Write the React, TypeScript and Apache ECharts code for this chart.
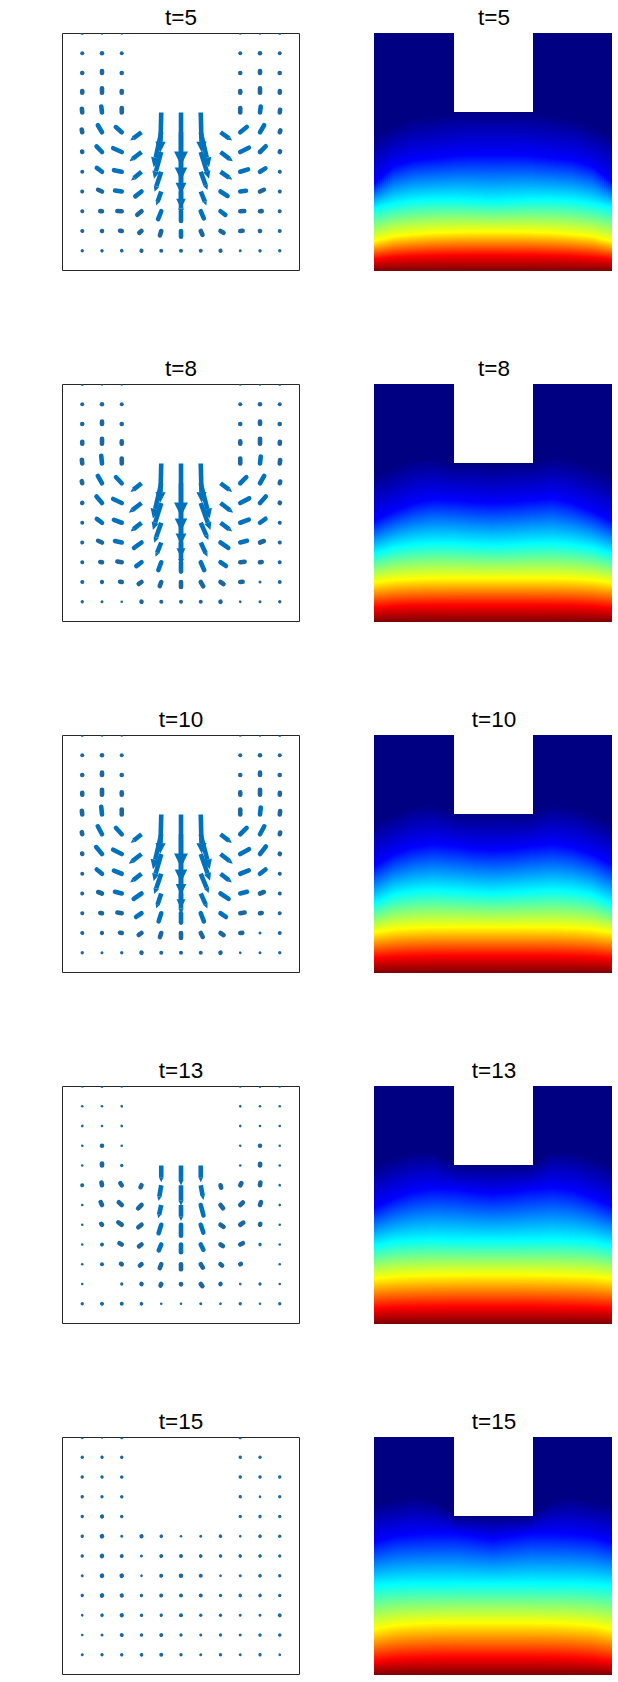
import React, { useEffect, useRef } from "react";
import * as echarts from "echarts";

const _ = null;
const TIMES = [5, 8, 10, 13, 15];
const PANEL_TOPS = [33, 384, 735, 1086, 1437];
const ROW_Y = [12, 11, 10, 9, 8, 7, 6, 5, 4, 3, 2, 1];
const COL_X = [1, 2, 3, 4, 5, 6, 7, 8, 9, 10, 11];
const FIELD_X = [0, 1, 2, 3, 4, 5, 6, 7, 8, 9, 10, 11, 12];

const U_T5 = [
  [1, 0, 0, _, _, _, _, _, 0, 0, 1],
  [0, 0, 0, _, _, _, _, _, 0, 0, 0],
  [0, 0, 0, _, _, _, _, _, 0, 0, 0],
  [0, 0, 0, _, _, _, _, _, 0, 0, 1],
  [-2, -3, 0, _, -3, 0, 3, _, 0, 3, 2],
  [-3, -16, -23, -34, -23, 0, 25, 35, 25, 16, 4],
  [-2, -21, -32, -36, -22, 0, 25, 37, 32, 22, 4],
  [0, -21, -30, -31, -20, 0, 20, 35, 30, 22, 1],
  [-1, -18, -27, -24, -15, 0, 17, 27, 24, 18, 1],
  [-5, -12, -20, -18, -12, 0, 12, 20, 19, 12, 1],
  [-1, -6, -12, -12, -6, 0, 8, 15, 14, 6, 0],
  [4, -3, -2, -2, 0, 0, 0, 2, 2, 3, 4],
];
const V_T5 = [
  [3, 3, 3, _, _, _, _, _, 3, 3, 3],
  [5, 6, 5, _, _, _, _, _, 5, 6, 5],
  [6, 13, 6, _, _, _, _, _, 6, 13, 6],
  [12, 20, 12, _, _, _, _, _, 12, 20, 12],
  [18, 25, 20, _, -120, -160, -120, _, 20, 25, 15],
  [15, 27, 20, -25, -105, -145, -105, -25, 20, 27, 12],
  [8, 22, 14, -28, -80, -126, -80, -28, 16, 22, 8],
  [5, 16, 6, -26, -60, -111, -55, -24, 9, 14, 5],
  [5, 8, 4, -19, -42, -70, -42, -17, 3, 8, 5],
  [1, 1, 1, -15, -30, -36, -28, -15, 1, 1, -5],
  [-5, 2, 2, -10, -20, -24, -18, -9, 1, 2, -5],
  [0, 3, 4, -5, -5, -5, -5, -5, 3, 3, 0],
];

const U_T8 = [
  [1, 0, 0, _, _, _, _, _, 0, 0, 1],
  [0, 0, 0, _, _, _, _, _, 0, 0, 0],
  [0, 0, 0, _, _, _, _, _, 0, 0, 0],
  [0, 0, 0, _, _, _, _, _, 0, 0, 1],
  [-2, -3, 0, _, -3, 0, 3, _, 0, 3, 2],
  [-3, -16, -22, -33, -25, 0, 27, 35, 23, 16, 3],
  [-2, -21, -32, -38, -25, 0, 29, 38, 33, 22, 4],
  [0, -21, -30, -33, -21, 0, 23, 35, 32, 22, 1],
  [-1, -18, -27, -28, -17, 0, 20, 29, 27, 18, 1],
  [-5, -12, -20, -21, -11, 0, 13, 22, 20, 12, 1],
  [-1, -5, -12, -14, -7, 0, 11, 15, 14, 3, 0],
  [4, -3, 0, -3, -1, 0, 0, 3, 1, 3, 4],
];
const V_T8 = [
  [3, 3, 3, _, _, _, _, _, 3, 3, 3],
  [5, 6, 5, _, _, _, _, _, 5, 6, 5],
  [7, 14, 6, _, _, _, _, _, 6, 14, 7],
  [13, 22, 14, _, _, _, _, _, 14, 22, 13],
  [18, 30, 22, _, -118, -160, -118, _, 22, 28, 17],
  [13, 28, 23, -26, -106, -145, -106, -26, 23, 28, 12],
  [7, 25, 15, -29, -81, -125, -81, -29, 17, 25, 7],
  [5, 16, 11, -26, -60, -105, -52, -26, 12, 16, 5],
  [5, 8, 6, -20, -43, -68, -43, -20, 7, 7, 5],
  [1, 2, 3, -16, -30, -35, -30, -15, 2, 2, -5],
  [-5, 2, 2, -10, -19, -22, -19, -10, 1, 2, -5],
  [0, 2, 3, -5, -5, -5, -5, -5, 3, 2, 0],
];

const U_T10 = [
  [1, 0, 0, _, _, _, _, _, 0, 0, 1],
  [0, 0, 0, _, _, _, _, _, 0, 0, 0],
  [0, 0, 0, _, _, _, _, _, 0, 0, 0],
  [0, 0, 0, _, _, _, _, _, 0, 0, 1],
  [-2, -3, 0, _, -3, 0, 3, _, 0, 3, 2],
  [-3, -16, -22, -32, -25, 0, 27, 34, 24, 16, 3],
  [-2, -22, -32, -38, -23, 0, 28, 37, 32, 22, 4],
  [0, -21, -30, -34, -21, 0, 24, 34, 32, 22, 1],
  [-1, -18, -27, -29, -15, 0, 20, 30, 27, 18, 1],
  [-5, -12, -20, -22, -10, 0, 12, 22, 20, 12, 1],
  [-1, -5, -12, -14, -6, 0, 9, 15, 13, 3, 0],
  [4, -3, 0, -3, 0, 0, 0, 3, 1, 3, 4],
];
const V_T10 = [
  [3, 3, 3, _, _, _, _, _, 3, 3, 3],
  [5, 6, 5, _, _, _, _, _, 5, 6, 5],
  [7, 14, 6, _, _, _, _, _, 6, 14, 7],
  [13, 22, 14, _, _, _, _, _, 14, 22, 13],
  [18, 30, 22, _, -118, -160, -118, _, 22, 28, 17],
  [13, 30, 24, -26, -105, -145, -105, -26, 24, 30, 12],
  [8, 26, 16, -29, -81, -123, -80, -29, 18, 28, 7],
  [5, 17, 12, -26, -61, -105, -58, -26, 13, 17, 5],
  [5, 7, 7, -20, -45, -62, -45, -20, 7, 7, 5],
  [1, 2, 3, -15, -31, -35, -31, -15, 3, 2, -5],
  [-5, 2, 2, -10, -19, -22, -18, -10, 1, 2, -5],
  [0, 2, 4, -5, -5, -5, -5, -5, 3, 2, 0],
];

const U_T13 = [
  [3, 3, 3, _, _, _, _, _, 3, 3, -3],
  [3, 0, -3, _, _, _, _, _, 2, 0, -3],
  [3, 0, -3, _, _, _, _, _, 2, 0, -3],
  [2, 0, 0, _, _, _, _, _, 2, 0, -3],
  [0, 0, 0, _, 0, 0, 0, _, 0, 1, 0],
  [-1, -3, -8, -6, -8, 0, 8, 4, 7, 2, 1],
  [0, -7, -14, -15, -9, 0, 10, 12, 13, 5, 1],
  [-1, -7, -16, -15, -10, 0, 10, 15, 15, 3, 0],
  [3, -3, -13, -13, -10, 0, 11, 13, 14, 1, -3],
  [3, 0, -8, -10, -7, 0, 10, 10, 8, 0, -3],
  [3, 0, 0, -3, -5, 0, 9, 4, 1, 0, -3],
  [4, -4, 0, -2, 0, 0, 2, 1, 0, 2, -4],
];
const V_T13 = [
  [0, 2, 0, _, _, _, _, _, 0, 2, 0],
  [0, 2, 1, _, _, _, _, _, 2, 2, 0],
  [1, 3, 1, _, _, _, _, _, 2, 3, 0],
  [1, 7, 3, _, _, _, _, _, 1, 6, 0],
  [3, 13, 4, _, -50, -60, -50, _, 3, 12, 2],
  [5, 15, 12, -12, -47, -62, -44, -14, 12, 15, 3],
  [3, 15, 13, -15, -40, -48, -38, -15, 12, 15, 1],
  [2, 8, 11, -12, -32, -40, -30, -10, 10, 9, 2],
  [0, 4, 7, -10, -24, -30, -22, -8, 7, 4, 0],
  [0, 5, 5, -8, -18, -22, -16, -8, 4, 0, 0],
  [0, 0, 4, -5, -11, -8, -12, -5, 3, 4, 0],
  [0, 3, 5, -4, -3, -3, -3, -3, 4, 1, 0],
];

const U_T15 = [
  [4, 3, 3, _, _, _, _, _, -4, _, _],
  [4, 4, 3, _, _, _, _, _, -4, 0, _],
  [4, 4, 3, _, _, _, _, _, -4, 1, 4],
  [4, 4, 3, _, _, _, _, _, -4, 1, -4],
  [4, 5, 3, _, _, _, _, _, 0, 4, -4],
  [4, 5, 2, 5, 4, 0, -3, -4, -2, 4, -4],
  [4, 5, 4, 2, 3, 0, -2, -1, -4, 4, -4],
  [3, 5, 5, 2, 1, 0, 0, -2, -2, 4, -4],
  [4, 5, 5, 1, 1, 0, 0, 0, -4, 4, -4],
  [1, 4, 5, 3, 1, 0, 0, 0, -3, 3, -3],
  [0, 3, 3, 3, 3, 4, -3, 0, -3, -3, -3],
  [2, 4, 3, 2, 0, 4, -2, 0, -2, -4, -1],
];
const V_T15 = [
  [0, 0, 3, _, _, _, _, _, 1, _, _],
  [0, -1, 3, _, _, _, _, _, 1, 4, _],
  [1, -1, 3, _, _, _, _, _, 1, 4, 1],
  [1, 0, 3, _, _, _, _, _, 1, 3, 0],
  [1, 2, 3, _, _, _, _, _, 4, 1, 0],
  [1, 3, -3, 2, 2, 2, 2, 2, -2, 2, 0],
  [1, 3, 3, 3, -4, -5, -4, -4, 2, 2, 0],
  [2, 3, 3, -2, -5, -6, -5, -2, 3, 2, 0],
  [1, 3, 2, -4, -5, -5, -5, -4, 2, 2, 0],
  [3, 2, 2, -3, -4, -5, -4, -4, 2, 2, -4],
  [3, 2, 4, -3, -4, 0, -2, -4, 2, 3, 3],
  [3, 0, 3, -4, -5, 0, -3, -4, 3, 1, -3],
];

// Heights (grid units above the bottom edge) at which the field reaches each colour, per FIELD_X column.
const DARK_T5 = [6.8, 7.3, 7.7, 7.8, 8, 8, 8, 8, 8, 7.8, 7.7, 7.3, 6.9];
const BLUE_T5 = [4.4, 5.3, 5.6, 5.7, 5.8, 5.85, 5.85, 5.85, 5.8, 5.7, 5.6, 5.3, 4.5];
const CYAN_T5 = [3.15, 3.4, 3.55, 3.6, 3.6, 3.55, 3.5, 3.55, 3.6, 3.6, 3.55, 3.4, 3.2];
const YELLOW_T5 = [1.5, 1.75, 1.85, 1.92, 1.95, 1.97, 1.97, 1.97, 1.95, 1.92, 1.85, 1.75, 1.5];
const RED_T5 = [0.6, 0.7, 0.75, 0.78, 0.8, 0.8, 0.8, 0.8, 0.8, 0.78, 0.75, 0.7, 0.6];

const DARK_T8 = [7.4, 7.8, 8.2, 8.3, 8, 8, 7.9, 8, 8, 8.3, 8.2, 7.8, 7.4];
const BLUE_T8 = [5.1, 5.6, 6.0, 6.2, 6.15, 6.05, 6.0, 6.05, 6.15, 6.25, 6.0, 5.6, 5.1];
const CYAN_T8 = [3.45, 3.75, 3.9, 3.97, 3.95, 3.88, 3.85, 3.88, 3.95, 3.97, 3.9, 3.75, 3.45];
const YELLOW_T8 = [2.0, 2.12, 2.18, 2.2, 2.2, 2.2, 2.2, 2.2, 2.2, 2.2, 2.18, 2.12, 2.0];
const RED_T8 = [0.72, 0.8, 0.84, 0.85, 0.85, 0.85, 0.85, 0.85, 0.85, 0.85, 0.84, 0.8, 0.72];

const DARK_T10 = [7.6, 8, 8.4, 8.5, 8.1, 8, 8, 8, 8.1, 8.5, 8.4, 8, 7.6];
const BLUE_T10 = [5.4, 6.0, 6.35, 6.5, 6.4, 6.25, 6.2, 6.25, 6.4, 6.5, 6.35, 6.0, 5.5];
const CYAN_T10 = [3.5, 3.95, 4.12, 4.18, 4.12, 4.05, 4.0, 4.05, 4.12, 4.18, 4.12, 3.95, 3.5];
const YELLOW_T10 = [2.05, 2.2, 2.27, 2.3, 2.3, 2.3, 2.3, 2.3, 2.3, 2.3, 2.27, 2.2, 2.05];
const RED_T10 = [0.75, 0.82, 0.85, 0.87, 0.87, 0.87, 0.87, 0.87, 0.87, 0.87, 0.85, 0.82, 0.75];

const DARK_T13 = [8, 8.4, 8.7, 8.7, 8.1, 8, 8, 8, 8.1, 8.7, 8.7, 8.4, 8];
const BLUE_T13 = [5.85, 6.35, 6.7, 6.85, 6.8, 6.65, 6.55, 6.65, 6.8, 6.9, 6.75, 6.4, 5.95];
const CYAN_T13 = [3.95, 4.15, 4.22, 4.25, 4.22, 4.2, 4.2, 4.2, 4.22, 4.25, 4.22, 4.15, 3.95];
const YELLOW_T13 = [2.28, 2.38, 2.42, 2.45, 2.46, 2.47, 2.47, 2.47, 2.46, 2.45, 2.42, 2.38, 2.28];
const RED_T13 = [0.78, 0.83, 0.85, 0.86, 0.87, 0.87, 0.87, 0.87, 0.87, 0.86, 0.85, 0.83, 0.78];

const DARK_T15 = [8.6, 8.8, 9, 8.8, 8.2, 8.1, 8.1, 8.1, 8.2, 8.8, 9, 8.8, 8.6];
const BLUE_T15 = [6.7, 7.0, 7.1, 7.15, 7.15, 7.0, 6.85, 7.0, 7.15, 7.15, 7.1, 7.0, 6.7];
const CYAN_T15 = [4.5, 4.57, 4.6, 4.6, 4.6, 4.6, 4.6, 4.6, 4.6, 4.6, 4.6, 4.57, 4.5];
const YELLOW_T15 = [2.3, 2.5, 2.58, 2.62, 2.63, 2.63, 2.63, 2.63, 2.63, 2.62, 2.58, 2.5, 2.3];
const RED_T15 = [0.68, 0.8, 0.86, 0.88, 0.89, 0.89, 0.89, 0.89, 0.89, 0.88, 0.86, 0.8, 0.68];

const U_FRAMES = [U_T5, U_T8, U_T10, U_T13, U_T15];
const V_FRAMES = [V_T5, V_T8, V_T10, V_T13, V_T15];
const FIELD_FRAMES = [
  [DARK_T5, BLUE_T5, CYAN_T5, YELLOW_T5, RED_T5],
  [DARK_T8, BLUE_T8, CYAN_T8, YELLOW_T8, RED_T8],
  [DARK_T10, BLUE_T10, CYAN_T10, YELLOW_T10, RED_T10],
  [DARK_T13, BLUE_T13, CYAN_T13, YELLOW_T13, RED_T13],
  [DARK_T15, BLUE_T15, CYAN_T15, YELLOW_T15, RED_T15],
];

const SPAN = 12;
const QUIVER_SCALE = 1 / 59.3;
const STRIPS_PER_UNIT = 10;
const JET_STOPS = ["#000083", "#0000ff", "#00ffff", "#ffff00", "#ff0000"];
const JET_END = "#7c0000";
const ARROW = "#0072BD";
const ARROW_SMALL = "#1a689f";

function renderArrow(_p: any, api: any) {
  const x = api.value(0);
  const y = api.value(1);
  const u = api.value(2);
  const v = api.value(3);
  const a = api.coord([x, y]);
  const b = api.coord([x + u * QUIVER_SCALE, y + v * QUIVER_SCALE]);
  const dx = b[0] - a[0];
  const dy = b[1] - a[1];
  const len = Math.max(Math.hypot(dx, dy), 0.01);
  const lenRead = Math.hypot(u, v);
  const ux = dx / len;
  const uy = dy / len;
  const lw = Math.min(4.6, Math.max(2.6, 2.6 + (lenRead - 3) * 0.7));
  const color = lenRead < 24 ? ARROW_SMALL : ARROW;
  const big = lenRead > 40;
  const hl = 0.27 * len;
  const hw = 0.13 * len;
  const bx = b[0] - ux * hl;
  const by = b[1] - uy * hl;
  // A round cap reaches half a line width past the end, so the stub stops short of the read tip.
  const stub = Math.max(len - lw / 2, 0.01);
  const children: any[] = [
    {
      type: "line",
      shape: big
        ? { x1: a[0], y1: a[1], x2: bx, y2: by }
        : { x1: a[0], y1: a[1], x2: a[0] + ux * stub, y2: a[1] + uy * stub },
      style: { stroke: color, lineWidth: lw, lineCap: big ? "butt" : "round" },
    },
  ];
  if (big) {
    children.push({
      type: "polygon",
      shape: {
        points: [
          [b[0], b[1]],
          [bx - uy * hw, by + ux * hw],
          [bx + uy * hw, by - ux * hw],
        ],
      },
      style: { fill: color },
    });
  }
  return { type: "group", children };
}

function renderStrip(_p: any, api: any) {
  const x0 = api.value(0);
  const x1 = api.value(1);
  const topValue = api.value(2);
  const tl = api.coord([x0, topValue]);
  const br = api.coord([x1, 0]);
  const left = Math.round(tl[0]);
  const right = Math.round(br[0]) + (x1 >= SPAN ? 0 : 1);
  const top = Math.round(tl[1]);
  const bottom = Math.round(br[1]);
  const stops: any[] = [{ offset: 0, color: JET_STOPS[0] }];
  JET_STOPS.forEach((color, k) => {
    const h = api.value(3 + k);
    const offset = Math.max(0, Math.min(1, (topValue - h) / topValue));
    stops.push({ offset, color });
  });
  stops.push({ offset: 1, color: JET_END });
  return {
    type: "rect",
    shape: { x: left, y: top, width: right - left, height: bottom - top },
    style: { fill: new echarts.graphic.LinearGradient(0, 0, 0, 1, stops) },
  };
}

function arrowData(frame: number) {
  const out: number[][] = [];
  ROW_Y.forEach((y, r) => {
    COL_X.forEach((x, c) => {
      const u = U_FRAMES[frame][r][c];
      const v = V_FRAMES[frame][r][c];
      if (u !== null && v !== null) out.push([x, y, u, v]);
    });
  });
  return out;
}

function fieldData(frame: number) {
  const levels = FIELD_FRAMES[frame];
  const out: number[][] = [];
  const at = (arr: number[], x: number) => {
    const i = Math.min(Math.floor(x), FIELD_X.length - 2);
    const t = x - FIELD_X[i];
    return arr[i] * (1 - t) + arr[i + 1] * t;
  };
  const n = SPAN * STRIPS_PER_UNIT;
  for (let k = 0; k < n; k++) {
    const x0 = k / STRIPS_PER_UNIT;
    const x1 = (k + 1) / STRIPS_PER_UNIT;
    const mid = (x0 + x1) / 2;
    const top = mid > 4 && mid < 8 ? 8 : SPAN;
    out.push([x0, x1, top, ...levels.map((arr) => at(arr, mid))]);
  }
  return out;
}

function buildOption() {
  const grid: any[] = [];
  const xAxis: any[] = [];
  const yAxis: any[] = [];
  const series: any[] = [];
  const title: any[] = [];
  const axis = (gridIndex: number) => ({
    type: "value",
    gridIndex,
    min: 0,
    max: SPAN,
    show: false,
  });
  TIMES.forEach((t, i) => {
    const top = PANEL_TOPS[i];
    grid.push({
      left: 62.5,
      top: top + 0.5,
      width: 237,
      height: 237,
      show: true,
      borderColor: "#262626",
      borderWidth: 1,
      backgroundColor: "#fff",
    });
    grid.push({ left: 374, top, width: 238, height: 238, show: false });
    xAxis.push(axis(2 * i), axis(2 * i + 1));
    yAxis.push(axis(2 * i), axis(2 * i + 1));
    series.push({
      type: "custom",
      name: `velocity t=${t}`,
      coordinateSystem: "cartesian2d",
      xAxisIndex: 2 * i,
      yAxisIndex: 2 * i,
      clip: true,
      silent: true,
      encode: { x: 0, y: 1 },
      data: arrowData(i),
      renderItem: renderArrow,
    });
    series.push({
      type: "custom",
      name: `temperature t=${t}`,
      coordinateSystem: "cartesian2d",
      xAxisIndex: 2 * i + 1,
      yAxisIndex: 2 * i + 1,
      silent: true,
      encode: { x: 0, y: 2 },
      data: fieldData(i),
      renderItem: renderStrip,
    });
    [181, 494].forEach((cx) => {
      title.push({
        text: `t=${t}`,
        left: cx,
        top: top - 27,
        textAlign: "center",
        padding: 0,
        textStyle: {
          fontSize: 22.5,
          fontWeight: "normal",
          fontFamily: "Liberation Sans",
          color: "#000",
        },
      });
    });
  });
  return { animation: false, backgroundColor: "#fff", title, grid, xAxis, yAxis, series };
}

export default function App() {
  const ref = useRef<HTMLDivElement>(null);
  useEffect(() => {
    const chart = echarts.init(ref.current!, undefined, { renderer: "svg" });
    chart.setOption(buildOption() as any);
    return () => chart.dispose();
  }, []);
  return (
    <div
      ref={ref}
      style={{ position: "absolute", left: 0, top: 0, width: 618, height: 1682 }}
    />
  );
}
